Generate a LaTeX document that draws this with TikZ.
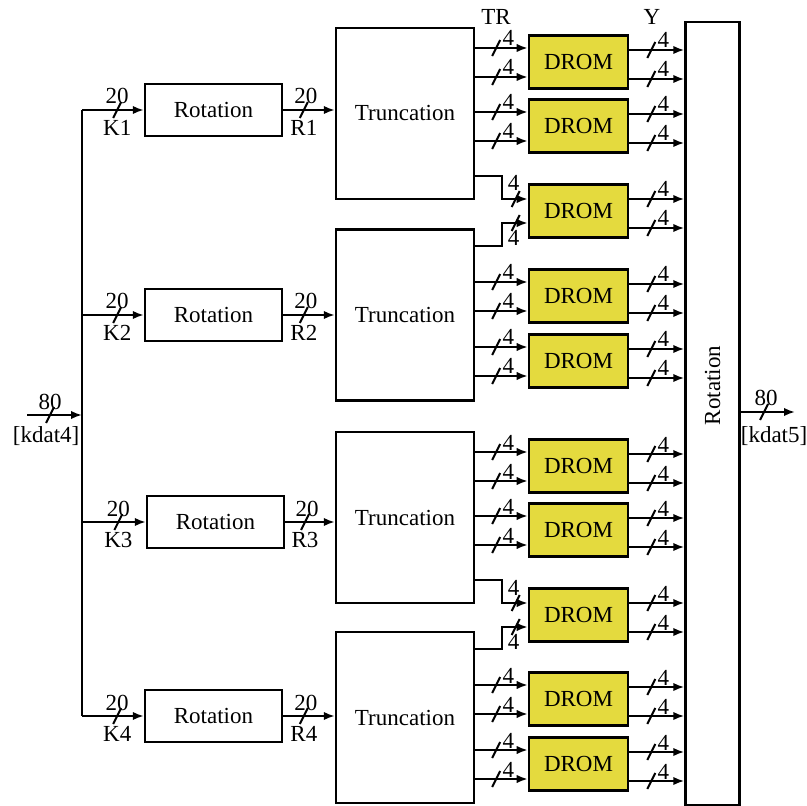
\documentclass[tikz,border=0pt]{standalone}
\usepackage{fontspec}
\setmainfont{Liberation Serif}
\usepackage{xcolor}
\definecolor{dromyellow}{RGB}{228,218,62}
\usetikzlibrary{arrows.meta, positioning, calc}

% short diagonal bus mark
\newcommand{\busslash}[1]{\draw[line width=1pt] (#1) ++(-4,8) -- ++(8,-16);}

\begin{document}
\begin{tikzpicture}[x=0.5pt, y=-0.5pt,
  every node/.style={font=\fontsize{11.5}{13}\selectfont},
  rotbox/.style={draw, line width=1.2pt, minimum width=68.5pt, minimum height=26pt, inner sep=0pt},
  truncbox/.style={draw, line width=1.2pt, minimum width=69pt, minimum height=85.5pt, inner sep=0pt},
  drombox/.style={draw, line width=1.3pt, fill=dromyellow, minimum width=49.5pt, minimum height=26.5pt, inner sep=0pt},
  sig/.style={line width=1pt, -{Latex[length=5.5pt,width=4.2pt]}},
  width/.style={inner sep=0pt, anchor=base west},
  ]
\useasboundingbox (0,0) rectangle (807,806);

% === Rotation / Truncation rows ===
\node[rotbox] (rot1) at (213.5,110) {Rotation};
\node[rotbox] (rot2) at (213.5,315) {Rotation};
\node[rotbox] (rot3) at (215.5,522) {Rotation};
\node[rotbox] (rot4) at (213.5,716) {Rotation};

\node[truncbox] (tr1) at (405,113.5) {Truncation};
\node[truncbox] (tr2) at (405,315) {Truncation};
\node[truncbox] (tr3) at (405,517.5) {Truncation};
\node[truncbox] (tr4) at (405,717.5) {Truncation};

% === DROM blocks ===
\foreach \d/\y in {1/62,2/126,3/211,4/296,5/361,6/466,7/530,8/615,9/699,10/764}
  \node[drombox] (d\d) at (578.5,\y) {DROM};

% === Output Rotation ===
\node[draw, line width=1.2pt, minimum width=27pt, minimum height=391.5pt, inner sep=0pt] (rotout) at (712.5,413.5) {};
\node[rotate=90] (rotlbl) at ($(rotout.center)+(0,-28)$) {Rotation};

\node[inner sep=0pt, anchor=base] (trlbl) at (496,25) {TR};
\node[inner sep=0pt, anchor=base] (ylbl) at (652,25) {Y};

% === Input bus ===
\coordinate (kin) at (27,415);
\coordinate (busin) at (82,415);
\draw[sig] (kin) -- coordinate[pos=0.42] (m) (busin);
\busslash{m}
\node[inner sep=0pt, anchor=base] (in80) at ($(m)+(0,-6)$) {80};
\node[inner sep=0pt, anchor=north] (inname) at ($(m)+(-4,11)$) {[kdat4]};
\draw[line width=1pt] (rot1.west -| busin) -- (rot4.west -| busin);

\foreach \i in {1,...,4}{
  \draw[sig] (rot\i.west -| busin) -- coordinate[pos=0.57] (k) (rot\i.west);
  \busslash{k}
  \node[inner sep=0pt, anchor=base] at ($(k)+(0,-6)$) {20};
  \node[inner sep=0pt, anchor=north] at ($(k)+(0,10)$) {K\i};
  \draw[sig] (rot\i.east) -- coordinate[pos=0.4] (r) (rot\i.east -| tr\i.west);
  \busslash{r}
  \node[inner sep=0pt, anchor=base] at ($(r)+(2,-6)$) {20};
  \node[inner sep=0pt, anchor=north] at ($(r)+(0,10)$) {R\i};
}

% Truncation -> DROM
\foreach \d/\t in {1/1,2/1,4/2,5/2,6/3,7/3,9/4,10/4}{
  \foreach \dy in {-14,15}{
    \coordinate (din) at ($(d\d.west)+(0,\dy)$);
    \draw[sig] (tr\t.east |- din) -- coordinate[pos=0.4] (m) (din);
    \busslash{m}
    \node[width] at ($(m)+(6,-2)$) {4};
  }
}

% crossing inputs
\foreach \d/\t/\u in {3/1/2,8/3/4}{
  \coordinate (xa) at ($(d\d.west)+(0,-12)$);
  \coordinate (xb) at ($(d\d.west)+(0,12)$);
  \draw[sig] ($(tr\t.south east)+(0,-24)$) -| ($(xa)+(-26,0)$) -- (xa);
  \draw[sig] ($(tr\u.north east)+(0,18)$) -| ($(xb)+(-26,0)$) -- (xb);
  \coordinate (sa) at ($(xa)+(-12,0)$);
  \coordinate (sb) at ($(xb)+(-12,0)$);
  \busslash{sa}
  \busslash{sb}
  \node[inner sep=0pt, anchor=base] at ($(xa)+(-14,-8)$) {4};
  \node[inner sep=0pt, anchor=north] at ($(xb)+(-14,7)$) {4};
}

% DROM -> Rotation
\foreach \d in {1,...,10}{
  \foreach \dy in {-12,17}{
    \coordinate (dout) at ($(d\d.east)+(0,\dy)$);
    \draw[sig] (dout) -- coordinate[pos=0.4] (m) (dout -| rotout.west);
    \busslash{m}
    \node[width] at ($(m)+(6,-2)$) {4};
  }
}

% === Output bus ===
\coordinate (kout) at (795,412);
\draw[sig] (rotout.east |- kout) -- coordinate[pos=0.43] (m) (kout);
\busslash{m}
\node[inner sep=0pt, anchor=base] (out80) at ($(m)+(2,-6)$) {80};
\node[inner sep=0pt, anchor=north] (outname) at ($(m)+(10,14)$) {[kdat5]};

\end{tikzpicture}
\end{document}
